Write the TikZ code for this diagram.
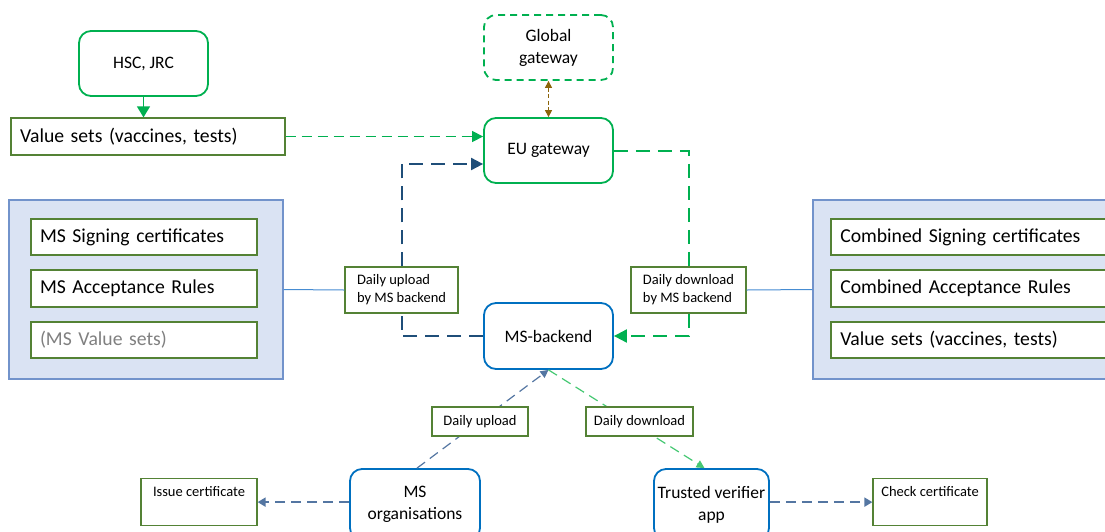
\documentclass[tikz,border=0pt]{standalone}
\usepackage{fontspec}
\setmainfont{Carlito}
\usetikzlibrary{arrows.meta,calc}

\definecolor{gwgreen}{RGB}{0,176,80}
\definecolor{olive}{RGB}{84,130,53}
\definecolor{msblue}{RGB}{0,112,192}
\definecolor{navy}{RGB}{31,78,121}
\definecolor{steel}{RGB}{84,118,162}
\definecolor{lightgreen}{RGB}{70,200,115}
\definecolor{panelfill}{RGB}{218,227,243}
\definecolor{panelline}{RGB}{114,147,203}
\definecolor{linkblue}{RGB}{70,140,210}
\definecolor{brown}{RGB}{140,100,10}
\definecolor{greytext}{RGB}{128,128,128}

\tikzset{
  rbox/.style={draw, line width=1.8pt, rounded corners=12pt, fill=white, align=center,
    font=\fontsize{17.5}{22}\selectfont},
  gbox/.style={rbox, draw=gwgreen},
  bbox/.style={rbox, draw=msblue},
  itembox/.style={draw=olive, line width=1.3pt, fill=white, align=left,
    inner xsep=9pt, inner ysep=0pt, font=\fontsize{19.7}{23}\selectfont},
  panel/.style={draw=panelline, line width=1.3pt, fill=panelfill},
  lbl/.style={draw=olive, line width=1.2pt, fill=white, align=left,
    inner xsep=7pt, font=\fontsize{14.5}{18}\selectfont},
  taskbox/.style={draw=olive, line width=1.2pt, fill=white, inner xsep=0pt, inner ysep=0pt,
    text height=18pt, text depth=29pt, font=\fontsize{14.5}{17}\selectfont},
  link/.style={draw=linkblue, line width=1pt},
  bigdash/.style={line width=2pt, dash pattern=on 14pt off 8pt},
  thindash/.style={line width=1.3pt, dash pattern=on 10pt off 6pt},
}

\begin{document}
\begin{tikzpicture}[x=1pt,y=-1pt]
\useasboundingbox (0,0) rectangle (1105,531);
\clip (0,0) rectangle (1105,531);

% upstream sources
\node[gbox, minimum width=129pt, minimum height=65pt] (hsc) at (143.5,63.5) {HSC, JRC};
\node[itembox, minimum width=274pt, minimum height=37pt, text width=256pt] (vs) at (148,136.5)
  {Value sets (vaccines, tests)};

% gateways
\node[rbox, draw=gwgreen, dash pattern=on 7pt off 5pt, minimum width=129pt, minimum height=65pt]
  (gg) at (548.5,47.5) {Global\\gateway};
\node[gbox, minimum width=129pt, minimum height=65pt] (eu) at (548.5,150.5) {EU gateway};
\node[bbox, minimum width=129pt, minimum height=66pt] (msb) at (548.5,336) {MS-backend};

% member state side panel
\node[panel, minimum width=274pt, minimum height=179pt] (lp) at (146,289.5) {};
\node[itembox, minimum width=226pt, minimum height=36pt, text width=208pt] (ms1) at (144,237) {MS Signing certificates};
\node[itembox, minimum width=226pt, minimum height=37pt, text width=208pt] (ms2) at (144,288.5) {MS Acceptance Rules};
\node[itembox, minimum width=226pt, minimum height=36pt, text width=208pt, text=greytext] (ms3) at (144,340) {(MS Value sets)};

% combined side panel
\node[panel, minimum width=310pt, minimum height=179pt] (rp) at (968,289.5) {};
\node[itembox, minimum width=274.5pt, minimum height=36pt, text width=256pt] (cb1) at (968.25,237) {Combined Signing certificates};
\node[itembox, minimum width=274.5pt, minimum height=37pt, text width=256pt] (cb2) at (968.25,288.5) {Combined Acceptance Rules};
\node[itembox, minimum width=274.5pt, minimum height=36pt, text width=256pt] (cb3) at (968.25,340) {Value sets (vaccines, tests)};

% transfer labels on the backend loop
\node[lbl, minimum width=113pt, minimum height=46pt] (upl) at (401.5,290) {Daily upload\\by MS backend};
\node[lbl, minimum width=115pt, minimum height=46pt] (dnl) at (688.5,290) {Daily download\\by MS backend};

% national level
\node[bbox, minimum width=130pt, minimum height=71pt] (msorg) at (415,504.5) {MS\\organisations};
\node[bbox, minimum width=115pt, minimum height=71pt] (tva) at (711.5,504.5) {Trusted verifier\\app};
\node[taskbox, minimum width=116pt, anchor=north] (issue) at (199,478) {Issue certificate};
\node[taskbox, minimum width=114pt, anchor=north] (chk) at (930,478) {Check certificate};

% connectors
\draw[gwgreen, line width=1.3pt, -{Triangle[length=11pt,width=13pt]}]
  (hsc.south) -- (hsc.south |- vs.north);
\draw[gwgreen, thindash, -{Triangle[length=11pt,width=11pt]}]
  (vs.east) -- (vs.east -| eu.west);
\draw[brown, line width=1.2pt, dash pattern=on 4pt off 2.5pt,
  {Triangle[length=7pt,width=7pt]}-{Triangle[length=7pt,width=7pt]}]
  (gg.south) -- (eu.north);

\draw[navy, bigdash] (msb.west) -| (upl.south);
\draw[navy, bigdash, -{Triangle[length=12pt,width=12pt]}]
  (upl.north) |- ($(eu.west)+(0,13.5)$);
\draw[gwgreen, bigdash] (eu.east) -| (dnl.north);
\draw[gwgreen, bigdash, -{Triangle[length=13pt,width=13pt]}] (dnl.south) |- (msb.east);

\draw[link] (lp.east) -- (upl.west);
\draw[link] (dnl.east) -- (rp.west);

\draw[steel, thindash, line width=1.2pt, -{Triangle[length=8pt,width=8pt]}]
  ([xshift=2pt]msorg.north) -- (msb.south);
\draw[lightgreen, thindash, line width=1.2pt, -{Triangle[length=8pt,width=8pt]}]
  (msb.south) -- ([xshift=-7pt]tva.north);
\draw[steel, line width=1.8pt, dash pattern=on 10pt off 6pt, -{Triangle[length=8pt,width=9pt]}]
  (msorg.west |- issue.east) -- (issue.east);
\draw[steel, line width=1.8pt, dash pattern=on 10pt off 6pt, -{Triangle[length=8pt,width=9pt]}]
  (tva.east |- chk.west) -- (chk.west);

% labels sitting on the diagonal links
\node[lbl, minimum width=96pt, minimum height=29pt, align=center] (dupl) at (480,421.5) {Daily upload};
\node[lbl, minimum width=107pt, minimum height=29pt, align=center] (ddnl) at (639.5,421.5) {Daily download};
\end{tikzpicture}
\end{document}
